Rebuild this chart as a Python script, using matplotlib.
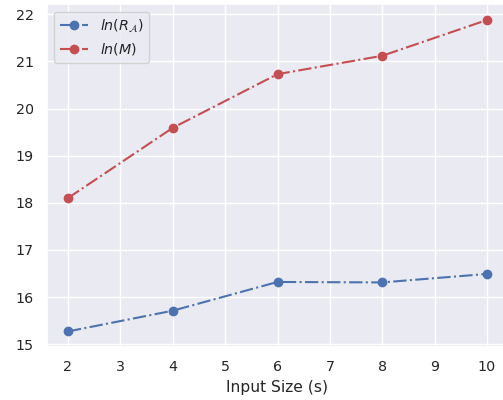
import matplotlib
matplotlib.use("Agg")
import matplotlib.pyplot as plt
import seaborn as sns

sns.set_theme(font_scale=0.93)

input_size = [2, 4, 6, 8, 10]
ln_ra = [15.27, 15.71, 16.32, 16.31, 16.49]
ln_m = [18.10, 19.59, 20.73, 21.12, 21.88]

fig = plt.figure(figsize=(5.03, 4.0), dpi=100)
ax = fig.add_axes([47 / 503, 53 / 400, 461 / 503, 342.6 / 400])

ax.plot(input_size, ln_ra, 'bo-.', label=r'$ln(R_\mathcal{A})$')
ax.plot(input_size, ln_m, 'ro-.', label=r'$ln(M)$')

ax.set_xlabel("Input Size (s)")
ax.legend(loc="upper left")

fig.savefig("out.png", dpi=100)
